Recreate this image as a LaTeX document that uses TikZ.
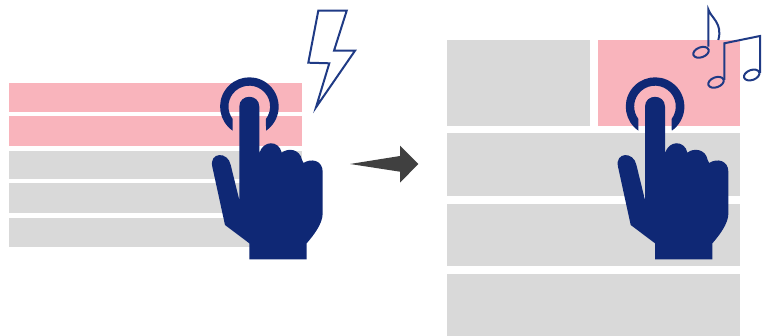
\documentclass[tikz,border=0pt]{standalone}
\definecolor{pinkbar}{HTML}{F9B4BC}
\definecolor{graybar}{HTML}{D9D9D9}
\definecolor{navyhand}{HTML}{0F2875}
\definecolor{navyline}{HTML}{1F3A85}
\definecolor{arrowgray}{HTML}{404040}
\tikzset{
  pinkblock/.style={fill=pinkbar,draw=none},
  grayblock/.style={fill=graybar,draw=none},
  iconline/.style={draw=navyline,line width=2pt,line join=miter},
  hand/.pic={
    \fill[navyhand] (239.3,200) -- (239.3,106.7)
      .. controls (239.3,93.5) and (259.3,93.5) .. (259.3,106.7)
      -- (259.3,153.3)
      .. controls (263,140) and (279,140) .. (281.7,152.7)
      .. controls (288,147.5) and (300,149) .. (302,160)
      -- (303.5,163)
      .. controls (311,158) and (322.7,160) .. (322.7,172)
      -- (322.7,213.3)
      .. controls (322.7,224) and (313,236) .. (306.7,243.3)
      -- (306.7,259.3) -- (249.3,259.3) -- (249.3,243.3)
      -- (225,225) -- (212.3,166.7)
      .. controls (209,152) and (228,151) .. (230.7,165)
      -- cycle;
    \fill[navyhand] (232.7,130.7)
      arc[start angle=124.7,end angle=415.3,radius=29.3]
      -- (265.9,119)
      arc[start angle=397,end angle=143,radius=20.8]
      -- cycle;
  }
}
\begin{document}
\begin{tikzpicture}[x=1pt,y=1pt,yscale=-1]
\useasboundingbox (0,0) rectangle (763,336);
% left list
\fill[pinkblock] (9,83) rectangle (302,112);
\fill[pinkblock] (9,116) rectangle (302,146);
\fill[grayblock] (9,151) rectangle (302,179);
\fill[grayblock] (9,183) rectangle (302,213);
\fill[grayblock] (9,218) rectangle (302,247);
% right list
\fill[grayblock] (447,40) rectangle (590,126);
\fill[pinkblock] (598,40) rectangle (740,126);
\fill[grayblock] (447,133) rectangle (740,196);
\fill[grayblock] (447,204) rectangle (740,266);
\fill[grayblock] (447,274) rectangle (740,336);
% arrow
\fill[arrowgray] (350,164) -- (400,156) -- (400,145.7) -- (418.3,164) -- (400,182.7) -- (400,171.7) -- cycle;
% hands
\pic[transform shape] at (0,0) {hand};
\pic[transform shape] at (405.7,0) {hand};
% lightning
\draw[iconline] (318.3,10.7) -- (346.7,10.7) -- (334,50.7) -- (355,50.7) -- (316,107.3) -- (329.3,63.3) -- (308.3,62.7) -- cycle;
% notes
\draw[iconline] (708.3,46.7) -- (708.3,9.3) .. controls (711,18) and (723,23) .. (718.3,40);
\draw[iconline,rotate around={-20:(701,52.3)}] (701,52.3) ellipse[x radius=8,y radius=5];
\draw[iconline] (724.3,80) -- (724.3,43.3) -- (760,36) -- (760,73);
\draw[iconline,rotate around={-20:(716,82.3)}] (716,82.3) ellipse[x radius=8,y radius=5];
\draw[iconline,rotate around={-20:(751.7,75)}] (751.7,75) ellipse[x radius=8,y radius=5];
\end{tikzpicture}
\end{document}
